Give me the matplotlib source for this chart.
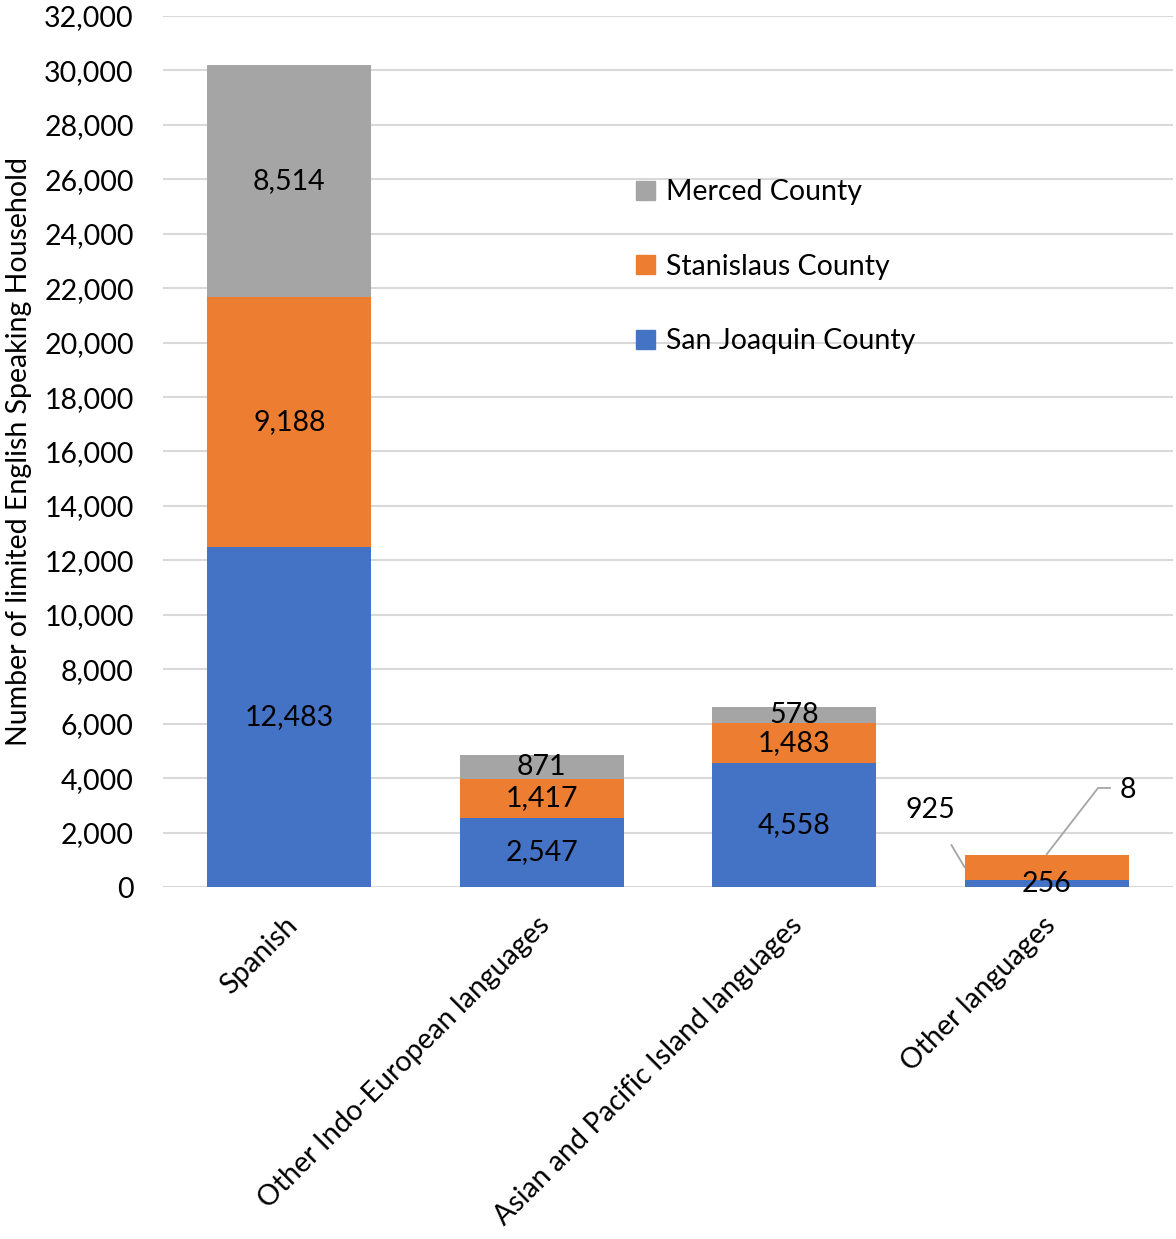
import numpy as np
import matplotlib
matplotlib.use("Agg")
import matplotlib.pyplot as plt
from matplotlib.patches import Patch
import matplotlib.transforms as mtransforms

plt.rcParams['font.family'] = ['Lato', 'DejaVu Sans']

languages = ['Spanish', 'Other Indo-European languages',
             'Asian and Pacific Island languages', 'Other languages']
san_joaquin = [12483, 2547, 4558, 256]
stanislaus = [9188, 1417, 1483, 925]
merced = [8514, 871, 578, 8]
counties = ['San Joaquin County', 'Stanislaus County', 'Merced County']
colors = ['#4472C4', '#ED7D31', '#A5A5A5']

FS = 20.5

fig = plt.figure(figsize=(11.76, 12.39), dpi=100)
ax = fig.add_axes([0.1386, 0.2841, 0.8589, 0.7030])

x = np.arange(len(languages))
w = 0.65
series = [san_joaquin, stanislaus, merced]
bottom = np.zeros(len(languages))
for k, (vals, c) in enumerate(zip(series, colors)):
    vals = np.array(vals, dtype=float)
    ax.bar(x, vals, w, bottom=bottom, color=c, zorder=3)
    for i in range(len(languages)):
        if i == 3 and k > 0:
            continue  # callouts drawn below
        ax.text(x[i], bottom[i] + vals[i] / 2, format(int(vals[i]), ','),
                ha='center', va='center', fontsize=FS, color='black', zorder=5)
    bottom += vals

# callout labels for the small bar
b3 = san_joaquin[3]
ax.annotate(format(stanislaus[3], ','), xy=(x[3] - w / 2, b3 + stanislaus[3] / 2),
            xytext=(2.54, 2830), ha='center', va='center', fontsize=FS,
            arrowprops=dict(arrowstyle='-', color='#A5A5A5', lw=1.3,
                            shrinkA=16, shrinkB=0), zorder=5)
top3 = san_joaquin[3] + stanislaus[3] + merced[3]
ax.plot([x[3], 3.203, 3.25], [top3 + 20, 3639, 3639], color='#A5A5A5', lw=1.3, zorder=4)
ax.text(3.32, 3580, format(merced[3], ','), ha='center', va='center', fontsize=FS)

ax.set_xlim(-0.5, 3.5)
ax.set_ylim(0, 32000)
ax.set_yticks(np.arange(0, 32001, 2000))
ax.yaxis.set_major_formatter(matplotlib.ticker.FuncFormatter(lambda v, p: format(int(v), ',')))
ax.grid(axis='y', color='#D9D9D9', lw=1.5, zorder=0)
for s in ax.spines.values():
    s.set_visible(False)
ax.tick_params(axis='both', length=0, labelsize=FS)
ax.tick_params(axis='y', pad=21)
ax.set_xticks(x)
ax.set_xticklabels(languages, rotation=45, ha='right', rotation_mode='anchor')
ax.tick_params(axis='x', pad=18)
offset = mtransforms.ScaledTranslation(-0.05, 0, fig.dpi_scale_trans)
for lab in ax.get_xticklabels():
    lab.set_transform(lab.get_transform() + offset)

ax.set_ylabel('Number of limited English Speaking Household', fontsize=FS)
ax.yaxis.set_label_coords(-0.13, 0.5)

handles = [Patch(color=colors[2]), Patch(color=colors[1]), Patch(color=colors[0])]
ax.legend(handles, counties[::-1], loc='upper left', bbox_to_anchor=(0.443, 0.842),
          frameon=False, fontsize=FS, labelspacing=1.7, handlelength=0.65,
          handleheight=0.65, handletextpad=0.4)

fig.savefig('out.png', dpi=100)
